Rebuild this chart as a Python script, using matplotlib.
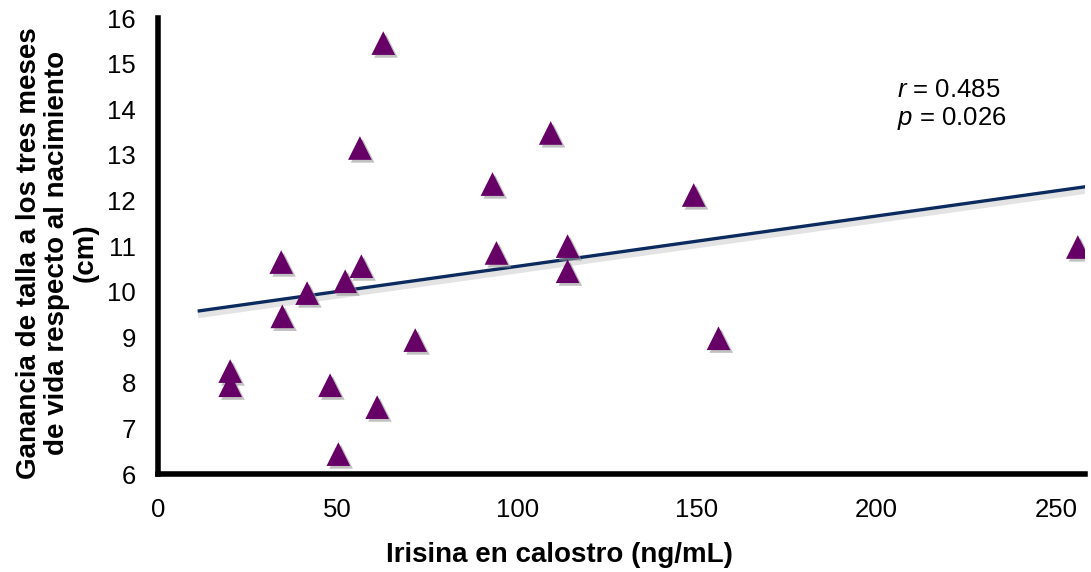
import matplotlib.pyplot as plt
import matplotlib.patheffects as pe

plt.rcParams['font.family'] = ['Liberation Sans', 'DejaVu Sans']
plt.rcParams['mathtext.fontset'] = 'custom'
plt.rcParams['mathtext.it'] = 'Liberation Sans:italic'
plt.rcParams['mathtext.rm'] = 'Liberation Sans'

# datos
irisina = [62.7, 56.2, 109.3, 93.1, 149.1, 34.3, 56.6, 41.5, 52.1, 94.2, 114.0,
           114.0, 256.0, 34.6, 71.6, 156.0, 20.1, 20.1, 47.9, 61.0, 50.2]
talla = [15.45, 13.15, 13.48, 12.36, 12.12, 10.65, 10.56, 9.97, 10.23, 10.85, 11.0,
         10.45, 10.98, 9.46, 8.94, 8.98, 8.26, 7.95, 7.95, 7.47, 6.44]
fit_x = [11.5, 258]
fit_y = [9.58, 12.3]
xticks = [0, 50, 100, 150, 200, 250]
yticks = list(range(6, 17))

fig = plt.figure(figsize=(10.91, 5.72), dpi=100)
ax = fig.add_axes([0.1448, 0.171, 0.8497, 0.7975])

shadow = [pe.SimplePatchShadow(offset=(2, -2), shadow_rgbFace='#999999', alpha=0.6), pe.Normal()]
ax.plot(fit_x, fit_y, color='#0b2a5e', linewidth=2.4, zorder=2,
        path_effects=[pe.SimpleLineShadow(offset=(1, -3), shadow_color='#bbbbbb', alpha=0.4, linewidth=4), pe.Normal()])
ax.scatter(irisina, talla, marker='^', s=290, color='#660066', zorder=3, linewidths=0,
           path_effects=shadow)

ax.set_xlim(0, 258)
ax.set_ylim(6, 16)
ax.set_xticks(xticks)
ax.set_yticks(yticks)
ax.tick_params(length=0, labelsize=18.5)
ax.tick_params(axis='x', pad=17)
ax.tick_params(axis='y', pad=16)
for s in ['top', 'right']:
    ax.spines[s].set_visible(False)
for s in ['left', 'bottom']:
    ax.spines[s].set_linewidth(4)
    ax.spines[s].set_color('black')

ax.set_xlabel('Irisina en calostro (ng/mL)', fontsize=20, fontweight='bold')
ax.xaxis.set_label_coords(0.4326, -0.148)
ax.set_ylabel('Ganancia de talla a los tres meses\nde vida respecto al nacimiento\n(cm)',
              fontsize=20, fontweight='bold', linespacing=1.12)
ax.yaxis.set_label_coords(-0.064, 0.485)

ax.text(0.797, 0.75, '$r$ = 0.485\n$p$ = 0.026',
        transform=ax.transAxes, fontsize=18.5, va='bottom', ha='left', linespacing=1.15)

fig.savefig('out.png', dpi=100)
